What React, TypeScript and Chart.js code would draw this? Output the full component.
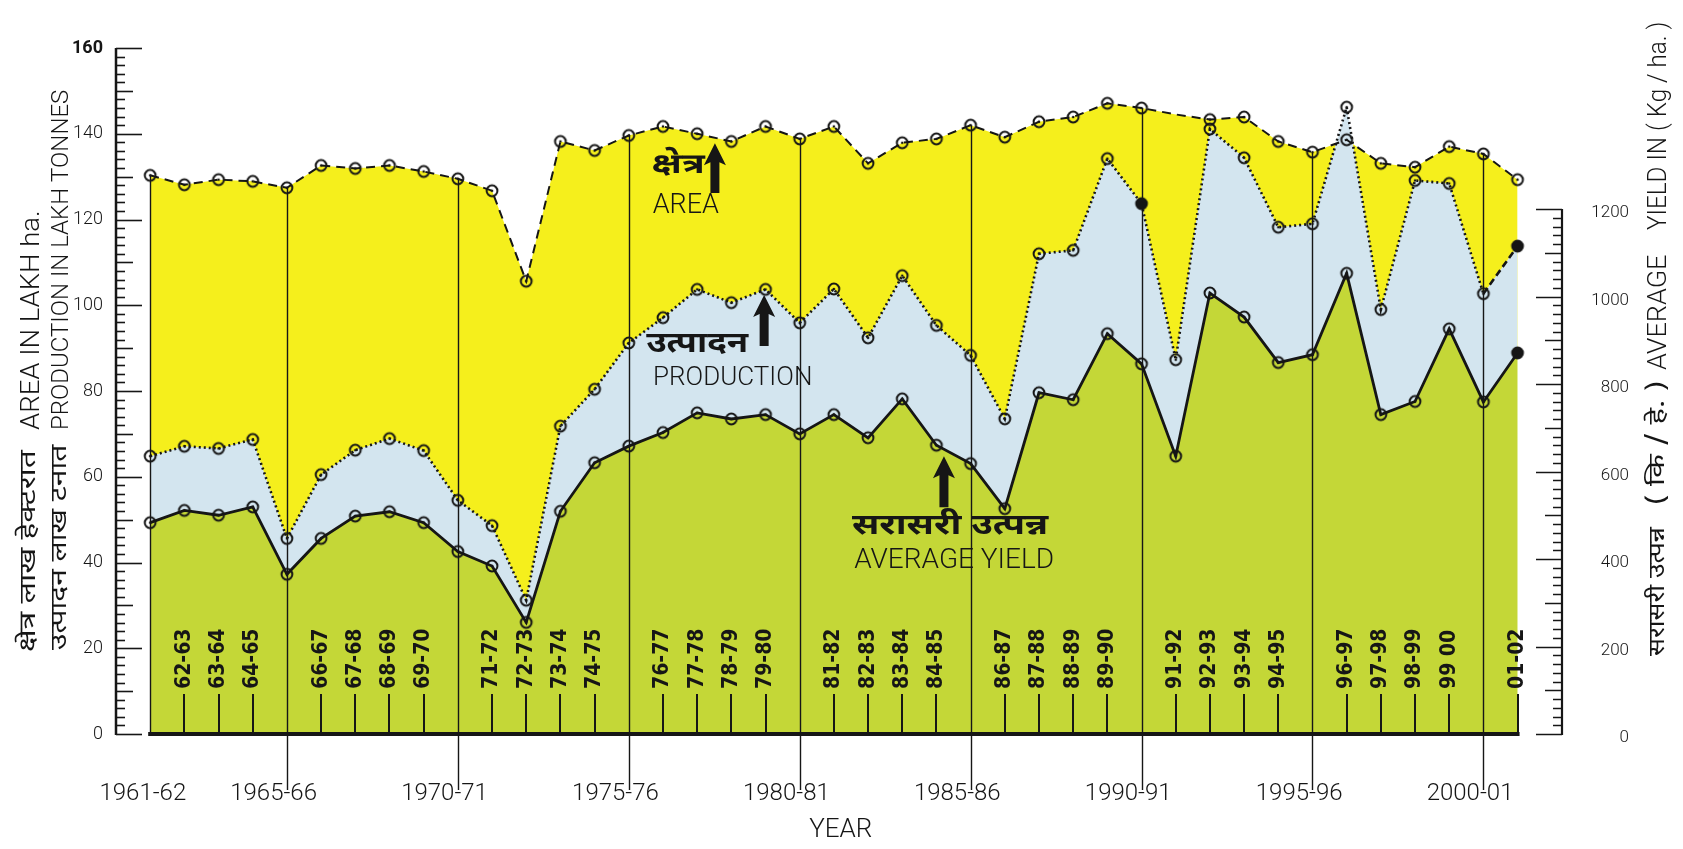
import React, { useEffect, useRef } from "react";
import { Chart, registerables } from "chart.js";

Chart.register(...registerables);

// Area (lakh ha), 1961-62 ... 2001-02
const areaLakhHa = [
  130.3, 128.1, 129.3, 128.9, 127.4, 132.6, 131.9, 132.6, 131.2, 129.5, 126.7,
  105.6, 138.2, 136.1, 139.6, 141.7, 140.0, 138.2, 141.7, 138.8, 141.7, 133.1,
  137.9, 138.8, 142.0, 139.2, 142.8, 143.9, 147.1, 146.0, 144.5, 143.3, 143.9,
  138.2, 135.7, 138.6, 133.1, 132.2, 137.0, 135.3, 129.3,
];

// Production (lakh tonnes)
const productionLakhT = [
  64.8, 67.1, 66.6, 68.7, 45.6, 60.5, 66.2, 68.9, 66.1, 54.5, 48.6, 31.2, 71.8,
  80.4, 91.2, 97.1, 103.7, 100.6, 103.7, 95.9, 103.8, 92.4, 106.9, 95.3, 88.3,
  73.5, 112.0, 112.8, 134.2, 123.7, 87.3, 141.1, 134.4, 118.2, 119.0, 146.2,
  99.0, 129.1, 128.4, 102.7, 113.8,
];

// Average yield (kg/ha)
const yieldKgHa = [
  483, 511, 500, 519, 365, 447, 498, 508, 483, 417, 384, 255, 509, 620, 658,
  689, 734, 720, 730, 686, 730, 677, 766, 660, 618, 515, 780, 764, 915, 846,
  635, 1008, 953, 849, 867, 1053, 730, 760, 926, 759, 871,
];

// Small (rotated) year labels inside the plot
const shortLabels = [
  "", "62-63", "63-64", "64-65", "", "66-67", "67-68", "68-69", "69-70", "",
  "71-72", "72-73", "73-74", "74-75", "", "76-77", "77-78", "78-79", "79-80", "",
  "81-82", "82-83", "83-84", "84-85", "", "86-87", "87-88", "88-89", "89-90", "",
  "91-92", "92-93", "93-94", "94-95", "", "96-97", "97-98", "98-99", "99 00", "",
  "01-02",
];

// Major (5-year) labels below the axis
const majorIndex = [0, 4, 9, 14, 19, 24, 29, 34, 39];
const majorLabels = [
  "1961-62", "1965-66", "1970-71", "1975-76", "1980-81",
  "1985-86", "1990-91", "1995-96", "2000-01",
];

// Right axis labelled ticks (kg/ha)
const yieldTicks = [0, 200, 400, 600, 800, 1000, 1200];

const INK = "#161616";
const COL_AREA = "#f5ef1c";
const COL_PROD = "#d3e5ef";
const COL_YIELD = "#c4d737";
const DEV = "'Noto Sans Devanagari', 'Noto Sans', sans-serif";
const LAT = "Roboto, 'DejaVu Sans', sans-serif";

function makeMarker(filled: boolean) {
  const c = document.createElement("canvas");
  c.width = 16;
  c.height = 16;
  const g = c.getContext("2d")!;
  g.beginPath();
  g.arc(8, 8, 5.4, 0, Math.PI * 2);
  if (filled) {
    g.fillStyle = INK;
    g.fill();
  }
  g.lineWidth = 2;
  g.strokeStyle = INK;
  g.stroke();
  g.beginPath();
  g.arc(8, 8, 1.3, 0, Math.PI * 2);
  g.fillStyle = INK;
  g.fill();
  return c;
}

function arrow(ctx: CanvasRenderingContext2D, x: number, yTip: number, yBase: number) {
  const hw = 11, sw = 4.5, hh = 22;
  ctx.beginPath();
  ctx.moveTo(x, yTip);
  ctx.lineTo(x + hw, yTip + hh);
  ctx.lineTo(x + sw, yTip + hh - 3);
  ctx.lineTo(x + sw, yBase);
  ctx.lineTo(x - sw, yBase);
  ctx.lineTo(x - sw, yTip + hh - 3);
  ctx.lineTo(x - hw, yTip + hh);
  ctx.closePath();
  ctx.fill();
}

// vertical text reading bottom-to-top, starting at yBottom, optionally stretched along its length
function vText(ctx: CanvasRenderingContext2D, text: string, x: number, yBottom: number, font: string, sx = 1) {
  ctx.save();
  ctx.translate(x, yBottom);
  ctx.rotate(-Math.PI / 2);
  ctx.scale(sx, 1);
  ctx.font = font;
  ctx.textAlign = "left";
  ctx.textBaseline = "middle";
  ctx.fillText(text, 0, 0);
  ctx.restore();
}

// horizontal text, optionally stretched horizontally
function hText(ctx: CanvasRenderingContext2D, text: string, x: number, y: number, font: string, sx = 1, align: CanvasTextAlign = "center") {
  ctx.save();
  ctx.translate(x, y);
  ctx.scale(sx, 1);
  ctx.font = font;
  ctx.textAlign = align;
  ctx.textBaseline = "middle";
  ctx.fillText(text, 0, 0);
  ctx.restore();
}

const decor = {
  id: "decor",
  beforeDatasetsDraw(chart: any) {
    const { ctx } = chart;
    const x = chart.scales.x;
    const y = chart.scales.y;
    const y0 = y.getPixelForValue(0);
    ctx.save();
    ctx.strokeStyle = INK;
    ctx.lineWidth = 1.4;
    majorIndex.forEach((idx, k) => {
      const px = Math.round(x.getPixelForValue(idx)) + 0.5;
      const top = y.getPixelForValue(areaLakhHa[idx]);
      const bottom = k === 0 ? y0 : y0 + 56;
      ctx.beginPath();
      ctx.moveTo(px, top);
      ctx.lineTo(px, bottom);
      ctx.stroke();
    });
    ctx.lineWidth = 2;
    shortLabels.forEach((lab, i) => {
      if (!lab) return;
      const px = Math.round(x.getPixelForValue(i));
      ctx.beginPath();
      ctx.moveTo(px, y0);
      ctx.lineTo(px, y0 - 40);
      ctx.stroke();
    });
    ctx.restore();
  },
  afterDatasetsDraw(chart: any) {
    const { ctx } = chart;
    const x = chart.scales.x;
    const y = chart.scales.y;
    const y0 = y.getPixelForValue(0);
    ctx.save();
    ctx.strokeStyle = INK;
    ctx.lineWidth = 4;
    ctx.beginPath();
    ctx.moveTo(x.getPixelForValue(0) - 2, y0);
    ctx.lineTo(x.getPixelForValue(40) + 2, y0);
    ctx.stroke();
    ctx.restore();
  },
  afterDraw(chart: any) {
    const { ctx, chartArea } = chart;
    const x = chart.scales.x;
    const y = chart.scales.y;
    const y2 = chart.scales.y2;
    const y0 = y.getPixelForValue(0);
    ctx.save();
    ctx.fillStyle = INK;
    ctx.strokeStyle = INK;

    // left axis
    const lx = chartArea.left;
    ctx.lineWidth = 2.5;
    ctx.beginPath();
    ctx.moveTo(lx, y.getPixelForValue(0) + 1);
    ctx.lineTo(lx, y.getPixelForValue(160));
    ctx.stroke();
    ctx.lineWidth = 1.6;
    for (let v = 0; v <= 160; v += 2) {
      const len = v % 20 === 0 ? 26 : v % 10 === 0 ? 17 : 9;
      const py = Math.round(y.getPixelForValue(v)) + 0.5;
      ctx.beginPath();
      ctx.moveTo(lx, py);
      ctx.lineTo(lx + len, py);
      ctx.stroke();
    }

    // right axis
    const rx = chartArea.right;
    ctx.lineWidth = 2.2;
    ctx.beginPath();
    ctx.moveTo(rx, y2.getPixelForValue(0) + 1);
    ctx.lineTo(rx, y2.getPixelForValue(1200));
    ctx.stroke();
    ctx.lineWidth = 1.5;
    for (let v = 0; v <= 1200; v += 20) {
      const len = v % 200 === 0 ? 26 : v % 100 === 0 ? 17 : 9;
      const py = Math.round(y2.getPixelForValue(v)) + 0.5;
      ctx.beginPath();
      ctx.moveTo(rx, py);
      ctx.lineTo(rx - len, py);
      ctx.stroke();
    }
    ctx.font = "300 17px " + LAT;
    ctx.textAlign = "right";
    ctx.textBaseline = "middle";
    yieldTicks.forEach((v) => {
      ctx.fillText(String(v), rx + 67, y2.getPixelForValue(v) + 4);
    });

    // rotated small labels
    shortLabels.forEach((lab, i) => {
      if (!lab) return;
      const px = x.getPixelForValue(i);
      vText(ctx, lab, px, y0 - 45, "bold 21px 'DejaVu Sans Condensed', 'DejaVu Sans', sans-serif");
    });

    // major labels below axis (hyphen on the line)
    ctx.font = "300 24px " + LAT;
    ctx.textAlign = "left";
    ctx.textBaseline = "middle";
    majorIndex.forEach((idx, k) => {
      const lab = majorLabels[k];
      const parts = lab.split("-");
      const w1 = ctx.measureText(parts[0]).width;
      const wh = ctx.measureText("-").width;
      const px = x.getPixelForValue(idx);
      ctx.fillText(lab, px - w1 - wh / 2 + (k === 0 ? 6 : 0), y0 + 60);
    });

    // axis title
    ctx.font = "300 26px " + LAT;
    ctx.textAlign = "center";
    ctx.fillText("YEAR", x.getPixelForValue(20.2), y0 + 96);

    // left titles
    vText(ctx, "AREA IN LAKH ha.", 33, 430, "300 25px " + LAT, 1.1);
    vText(ctx, "PRODUCTION IN LAKH TONNES", 62, 430, "300 24px " + LAT, 1.0);
    vText(ctx, "क्षेत्र लाख हेक्टरात", 31, 652, "23px " + DEV, 1.38);
    vText(ctx, "उत्पादन लाख टनात", 62, 650, "23px " + DEV, 1.3);

    // right title
    const fEngR = "300 25px " + LAT;
    vText(ctx, "सरासरी उत्पन्न", 1660, 656, "23px " + DEV, 1.15);
    vText(ctx, "( कि / हे. )", 1660, 505, "23px " + DEV, 1.35);
    vText(ctx, "AVERAGE", 1660, 370, fEngR, 1.08);
    vText(ctx, "YIELD IN ( Kg / ha. )", 1660, 230, fEngR, 0.97);

    // annotations
    const P = (i: number, v: number) => [x.getPixelForValue(i), y.getPixelForValue(v)];

    let p = P(15.45, 132.0);
    hText(ctx, "क्षेत्र", p[0], p[1], "bold 28px " + DEV, 1.35);
    p = P(15.67, 123.1);
    hText(ctx, "AREA", p[0], p[1], "300 27px " + LAT);
    let a = P(16.52, 137.8);
    arrow(ctx, a[0], a[1], y.getPixelForValue(126.2));

    p = P(16.0, 90.3);
    hText(ctx, "उत्पादन", p[0], p[1], "bold 29px " + DEV, 1.2);
    p = P(14.71, 83.0);
    hText(ctx, "PRODUCTION", p[0], p[1], "300 26px " + LAT, 1, "left");
    a = P(17.96, 102.4);
    arrow(ctx, a[0], a[1], y.getPixelForValue(90.5));

    a = P(23.22, 64.8);
    arrow(ctx, a[0], a[1], y.getPixelForValue(52.9));
    p = P(23.4, 48.0);
    hText(ctx, "सरासरी उत्पन्न", p[0], p[1], "bold 29px " + DEV, 1.28);
    p = P(23.52, 40.3);
    hText(ctx, "AVERAGE YIELD", p[0], p[1], "300 28px " + LAT);

    ctx.restore();
  },
};

export default function App() {
  const ref = useRef<HTMLCanvasElement | null>(null);

  useEffect(() => {
    document.body.style.margin = "0";
    const canvas = ref.current!;
    const marker = makeMarker(false);
    const markerFilled = makeMarker(true);
    const pts = (arr: number[]) => arr.map((v, i) => ({ x: i, y: v }));

    const chart = new Chart(canvas, {
      type: "line",
      data: {
        datasets: [
          {
            label: "Average yield",
            data: pts(yieldKgHa),
            yAxisID: "y2",
            borderColor: INK,
            borderWidth: 2.8,
            fill: "origin",
            backgroundColor: COL_YIELD,
            tension: 0,
            pointRadius: 5,
            pointStyle: (c: any) => (c.dataIndex === 40 ? markerFilled : marker),
          },
          {
            label: "Production",
            data: pts(productionLakhT),
            yAxisID: "y",
            borderColor: INK,
            borderWidth: 2.6,
            borderDash: [2, 3],
            fill: "origin",
            backgroundColor: COL_PROD,
            tension: 0,
            pointRadius: 5,
            pointStyle: (c: any) => (c.dataIndex === 40 || c.dataIndex === 29 ? markerFilled : marker),
            segment: {
              borderDash: (c: any) => (c.p0DataIndex === 39 ? [7, 4] : undefined),
            },
          },
          {
            label: "Area",
            data: pts(areaLakhHa),
            yAxisID: "y",
            borderColor: INK,
            borderWidth: 2,
            borderDash: [9, 6],
            fill: "origin",
            backgroundColor: COL_AREA,
            tension: 0,
            pointRadius: (c: any) => (c.dataIndex === 30 ? 0 : 5),
            pointStyle: marker,
          },
        ],
      } as any,
      options: {
        animation: false,
        responsive: false,
        layout: { padding: { top: 48, bottom: 115, left: 0, right: 0 } },
        plugins: {
          legend: { display: false },
          tooltip: { enabled: false },
          filler: { drawTime: "beforeDatasetsDraw" },
        } as any,
        scales: {
          x: { type: "linear", min: -1, max: 41.3, display: false },
          y: {
            position: "left",
            min: 0,
            max: 160,
            grid: { display: false, drawTicks: false },
            border: { display: false },
            ticks: {
              stepSize: 20,
              padding: 13,
              color: INK,
              font: (c: any) => ({
                family: LAT,
                size: 18,
                weight: c.tick && c.tick.value === 160 ? "bold" : "300",
              }),
            },
            afterFit: (s: any) => {
              s.width = 116;
            },
          },
          y2: {
            position: "right",
            min: 0,
            max: 1568,
            grid: { display: false, drawTicks: false },
            border: { display: false },
            ticks: { display: false, stepSize: 200 },
            afterFit: (s: any) => {
              s.width = 121;
            },
          },
        },
      } as any,
      plugins: [decor],
    });
    return () => chart.destroy();
  }, []);

  return (
    <div style={{ width: 1683, height: 849 }}>
      <canvas ref={ref} width={1683} height={849} style={{ display: "block" }} />
    </div>
  );
}
